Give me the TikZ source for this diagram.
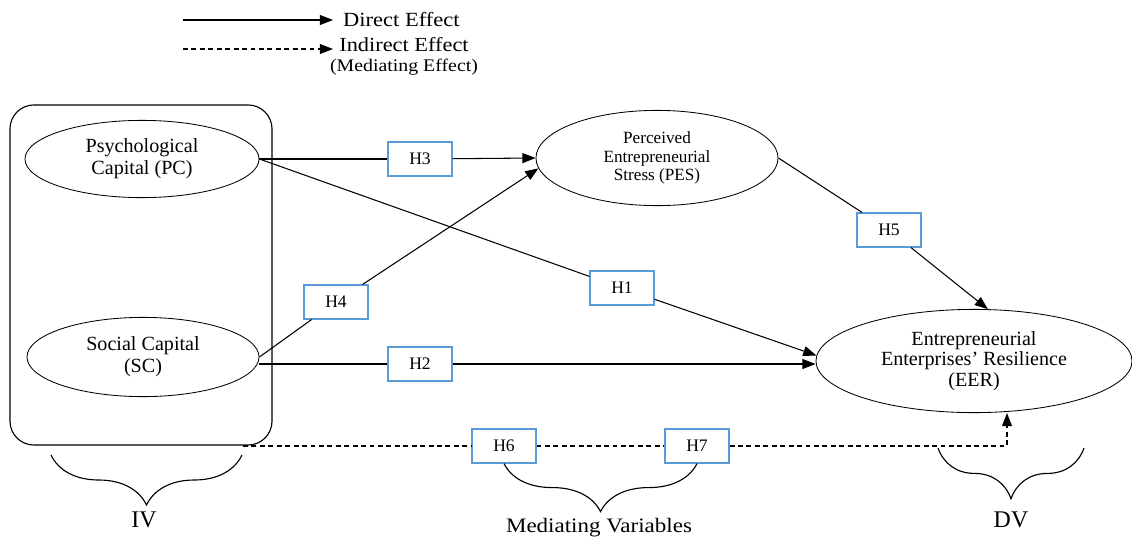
\documentclass[tikz,border=0pt]{standalone}
\usepackage{fontspec}
\setmainfont{Liberation Serif}
\newfontfamily\widefont{Liberation Serif}[FakeStretch=1.12]
\usepackage{xcolor}
\usetikzlibrary{positioning,arrows.meta,shapes.geometric,decorations.pathreplacing}
\definecolor{hblue}{RGB}{91,155,213}

\begin{document}
\begin{tikzpicture}[
    x=0.025cm,
    y=-0.025cm,
    construct/.style={
        ellipse,
        draw,
        line width=0.6pt,
        align=center,
        inner sep=0pt,
        font=\fontsize{14.3}{15.5}\selectfont
    },
    hyp/.style={
        rectangle,
        draw=hblue,
        line width=0.8pt,
        fill=white,
        minimum width=1.6cm,
        minimum height=0.85cm,
        font=\fontsize{12.5}{14}\selectfont
    },
    arrow/.style={
        -{Triangle[length=3.3mm,width=2.5mm]},
        line width=0.75pt
    },
    link/.style={line width=0.75pt},
    dasharrow/.style={arrow, dash pattern=on 3.5pt off 2.5pt},
    dashlink/.style={link, dash pattern=on 3.5pt off 2.5pt},
    curly/.style={
        decorate,
        decoration={brace, mirror, amplitude=#1},
        line width=0.8pt
    },
    tag/.style={font=\fontsize{17}{20}\selectfont}
]
\useasboundingbox (0,0) rectangle (1132,540);

% legend
\coordinate (dira) at (183,20);
\node[anchor=west, inner xsep=7pt, font=\widefont\fontsize{14.3}{16}\selectfont] (direct) at (333,20) {Direct Effect};
\draw[arrow] (dira) -- (direct.west);

\coordinate (inda) at (183,49);
\coordinate (indb) at (333,49);
\node[align=center, font=\widefont\fontsize{14.2}{14.2}\selectfont] (indirect) at (404,56)
{Indirect Effect\\{\fontsize{12.6}{14.2}\selectfont(Mediating Effect)}};
\draw[dasharrow] (inda) -- (indb);

% independent variables
\node[draw, rounded corners=0.6cm, line width=0.8pt,
      minimum width=6.55cm, minimum height=8.5cm] (ivbox) at (141,275) {};

\node[construct, minimum width=5.85cm, minimum height=1.93cm] (pc) at (142,159)
{Psychological\\Capital (PC)};

\node[construct, minimum width=5.8cm, minimum height=1.98cm] (sc) at (143,357)
{Social Capital\\(SC)};

% mediator and outcome
\node[construct, minimum width=6.05cm, minimum height=2.38cm,
      font=\fontsize{12.2}{13}\selectfont] (pes) at (657,158)
{Perceived\\Entrepreneurial\\Stress (PES)};

\node[construct, minimum width=7.9cm, minimum height=2.58cm,
      font=\fontsize{14.3}{14.6}\selectfont] (eer) at (974,361)
{Entrepreneurial\\Enterprises' Resilience\\(EER)};

% hypotheses
\node[hyp] (h3) at (420,159) {H3};
\node[hyp] (h4) at (336,302) {H4};
\node[hyp] (h1) at (622,288) {H1};
\node[hyp] (h2) at (420,364) {H2};
\node[hyp] (h5) at (889,230) {H5};
\node[hyp] (h6) at (504,446) {H6};
\node[hyp] (h7) at (697,446) {H7};

% direct paths
\draw[link] (pc.east) -- (h3);
\draw[arrow] (h3) -- (pes.west);
\draw[link] (pc.east) -- (h1);
\draw[arrow] (h1) -- (eer.178);
\draw[link] (sc.east) -- (h4);
\draw[arrow] (h4) -- (pes.185);
\draw[link] (h2.west -| sc.east) -- (h2.west);
\draw[arrow] (h2.east) -- (h2.east -| eer.west);
\draw[link] (pes.east) -- (h5);
\draw[arrow] (h5) -- (eer.75);

% indirect path
\coordinate (ivend) at (243,446);
\coordinate (dvturn) at (1007,446);
\draw[dashlink] (ivend) -- (h6);
\draw[dashlink] (h6) -- (h7);
\draw[dasharrow] (h7) -- (dvturn) -- (dvturn |- eer.south);

% groups
\coordinate (iva) at (51,455);
\coordinate (ivb) at (242,455);
\draw[curly=1.25cm] (iva) -- (ivb);
\node[tag] (iv) at (144,520) {IV};

\draw[curly=1.2cm] (h6.south) -- (h7.south);
\node[font=\widefont\fontsize{14.6}{16}\selectfont] (medvar) at (599,528) {Mediating Variables};

\coordinate (dva) at (938,448);
\coordinate (dvb) at (1084,448);
\draw[curly=1.27cm] (dva) -- (dvb);
\node[tag] (dv) at (1011,520) {DV};

\end{tikzpicture}
\end{document}
